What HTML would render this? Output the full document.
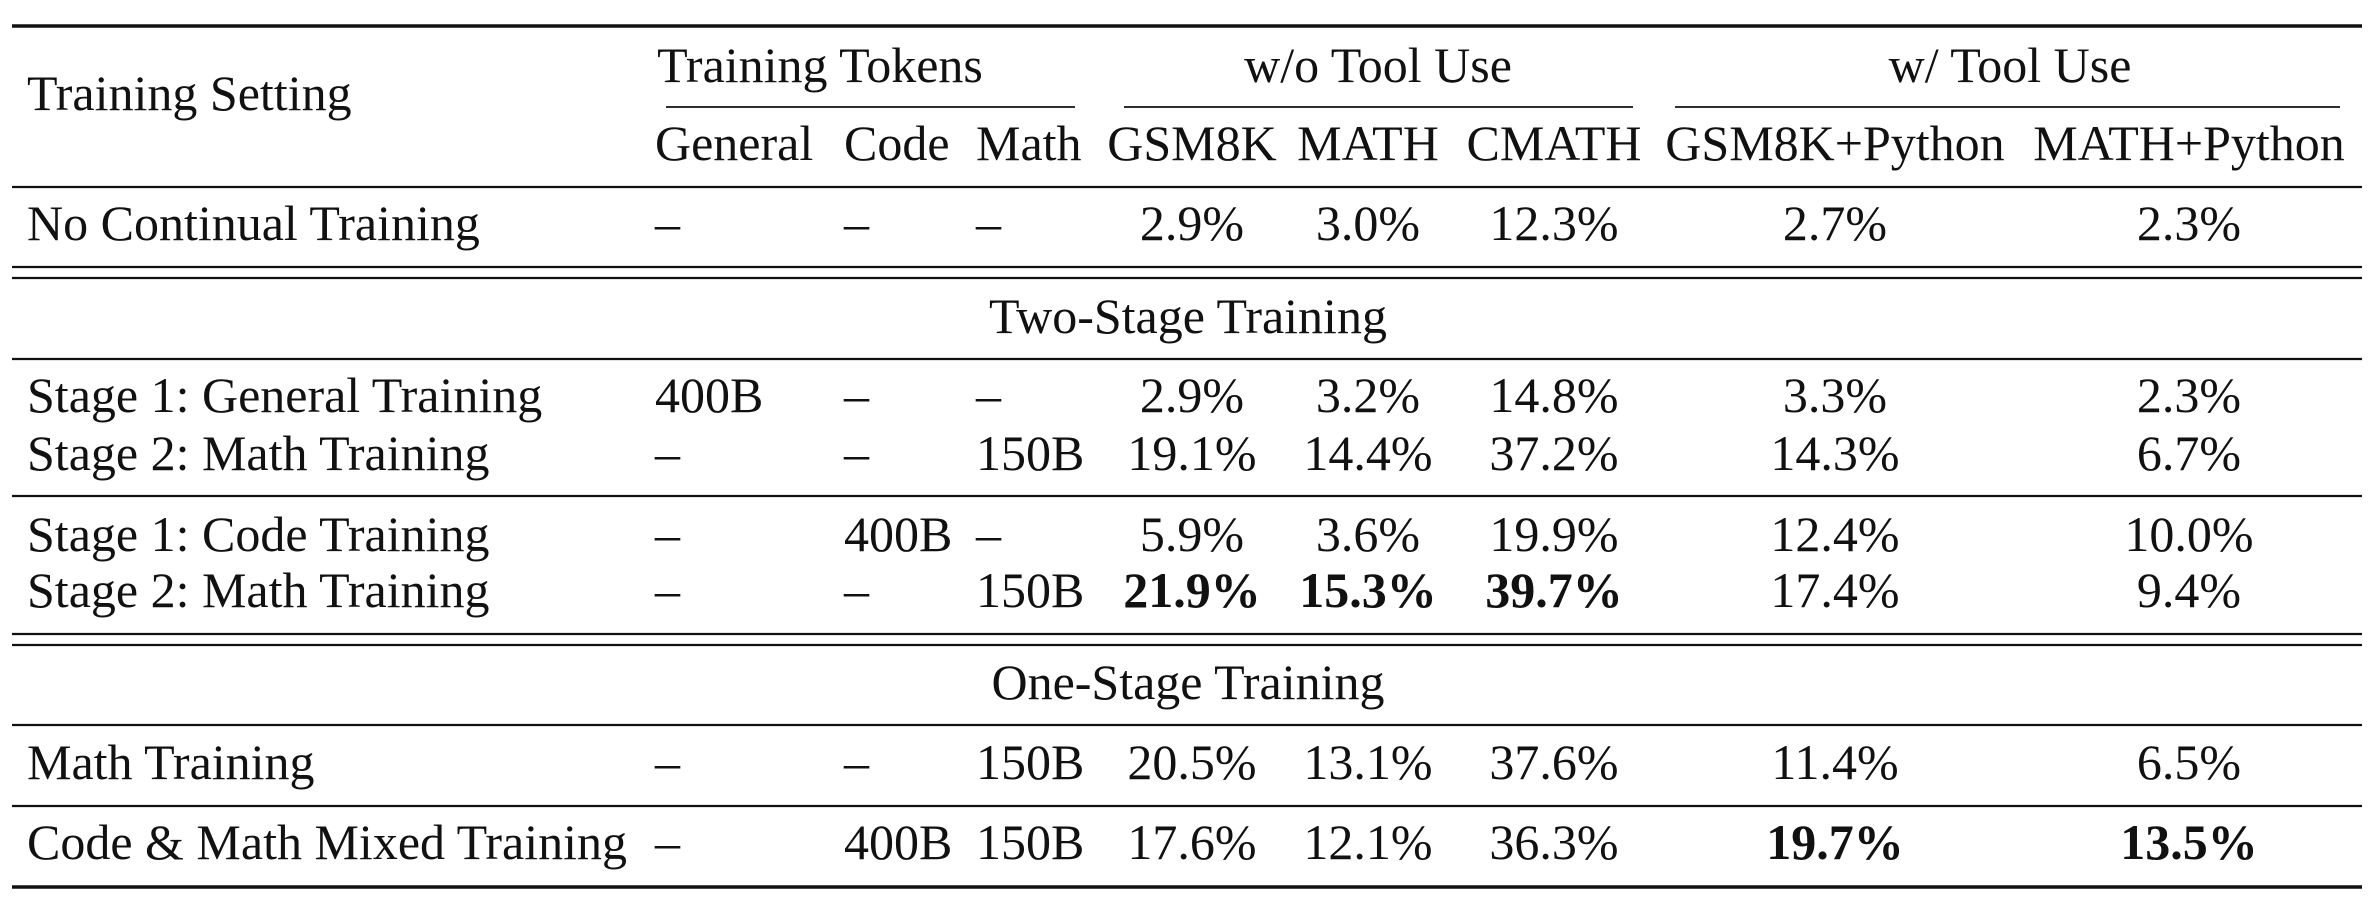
<!DOCTYPE html>
<html><head><meta charset="utf-8"><style>
html,body{margin:0;padding:0;background:#fff;}
svg{display:block;}
text{font-family:"Liberation Serif",serif;font-size:50px;fill:#111;}
.b{font-weight:bold;}
</style></head><body>
<svg width="2376" height="920" viewBox="0 0 2376 920">
<g stroke="#111">
<line x1="12" x2="2362" y1="26" y2="26" stroke-width="3.5"/>
<line x1="666" x2="1075" y1="107" y2="107" stroke-width="1.8"/>
<line x1="1124" x2="1633" y1="107" y2="107" stroke-width="1.8"/>
<line x1="1675" x2="2340" y1="107" y2="107" stroke-width="1.8"/>
<line x1="12" x2="2362" y1="187" y2="187" stroke-width="2.2"/>
<line x1="12" x2="2362" y1="267" y2="267" stroke-width="2.2"/>
<line x1="12" x2="2362" y1="278" y2="278" stroke-width="2.2"/>
<line x1="12" x2="2362" y1="359" y2="359" stroke-width="2.2"/>
<line x1="12" x2="2362" y1="496" y2="496" stroke-width="2.2"/>
<line x1="12" x2="2362" y1="634" y2="634" stroke-width="2.2"/>
<line x1="12" x2="2362" y1="645" y2="645" stroke-width="2.2"/>
<line x1="12" x2="2362" y1="725" y2="725" stroke-width="2.2"/>
<line x1="12" x2="2362" y1="806" y2="806" stroke-width="2.2"/>
<line x1="12" x2="2362" y1="887" y2="887" stroke-width="3.5"/>
</g>
<g>
<text x="27" y="110">Training Setting</text>
<text x="820" y="82" text-anchor="middle">Training Tokens</text>
<text x="1378" y="82" text-anchor="middle">w/o Tool Use</text>
<text x="2010" y="82" text-anchor="middle">w/ Tool Use</text>
<text x="655" y="160">General</text>
<text x="844" y="160">Code</text>
<text x="976" y="160">Math</text>
<text x="1192" y="160" text-anchor="middle">GSM8K</text>
<text x="1368" y="160" text-anchor="middle">MATH</text>
<text x="1554" y="160" text-anchor="middle">CMATH</text>
<text x="1835" y="160" text-anchor="middle">GSM8K+Python</text>
<text x="2189" y="160" text-anchor="middle">MATH+Python</text>
</g>
<text x="1188" y="333" text-anchor="middle">Two-Stage Training</text>
<text x="1188" y="699" text-anchor="middle">One-Stage Training</text>
<g id="rows"></g>
</svg>
<script>
const rowLabels=["No Continual Training","Stage 1: General Training","Stage 2: Math Training","Stage 1: Code Training","Stage 2: Math Training","Math Training","Code & Math Mixed Training"];
const rowY=[240,412,470,551,607,779,859];
const tokens=[["–","–","–"],["400B","–","–"],["–","–","150B"],["–","400B","–"],["–","–","150B"],["–","–","150B"],["–","400B","150B"]];
const scores=[["2.9%","3.0%","12.3%","2.7%","2.3%"],["2.9%","3.2%","14.8%","3.3%","2.3%"],["19.1%","14.4%","37.2%","14.3%","6.7%"],["5.9%","3.6%","19.9%","12.4%","10.0%"],["21.9%","15.3%","39.7%","17.4%","9.4%"],["20.5%","13.1%","37.6%","11.4%","6.5%"],["17.6%","12.1%","36.3%","19.7%","13.5%"]];
const bold=[[],[],[],[],[0,1,2],[],[3,4]];
const tokX=[655,844,976];
const scoreX=[1192,1368,1554,1835,2189];
const g=document.getElementById('rows');
const NS="http://www.w3.org/2000/svg";
function t(x,y,s,anchor,b){const e=document.createElementNS(NS,'text');e.setAttribute('x',x);e.setAttribute('y',y);if(anchor)e.setAttribute('text-anchor',anchor);if(b)e.setAttribute('class','b');e.textContent=s;g.appendChild(e);return e;}
rowLabels.forEach((lab,i)=>{
  const y=rowY[i];
  const l=t(27,y,lab);
  
  
  tokens[i].forEach((v,j)=>{const e=t(tokX[j],y,v);
    
    });
  scores[i].forEach((v,j)=>{const e=t(scoreX[j],y,v,'middle',bold[i].includes(j));
    
    });
});
</script>
</body></html>
